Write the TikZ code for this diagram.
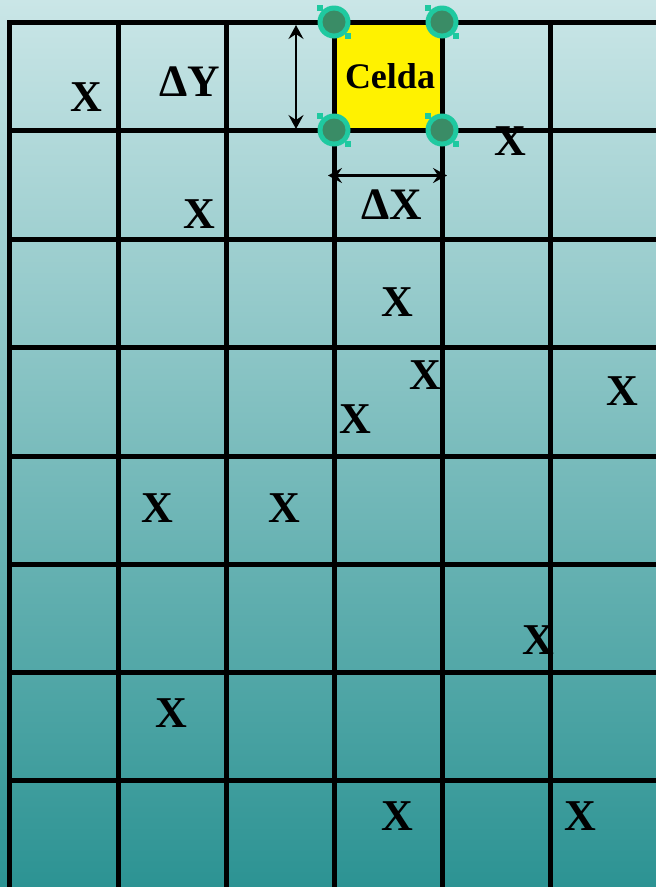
\documentclass[tikz,border=0pt]{standalone}
\usepackage{fontspec}
\setmainfont{Liberation Serif}
\usetikzlibrary{arrows.meta}
\definecolor{bgtop}{HTML}{CAE6E7}
\definecolor{bgbot}{HTML}{2C9393}
\definecolor{handle}{HTML}{1FC9A0}
\definecolor{knob}{HTML}{3A8C66}
\begin{document}
\begin{tikzpicture}[x=1pt,y=-1pt,
  gridline/.style={line width=5pt,black,line cap=rect},
  xmark/.style={font=\fontsize{44}{44}\selectfont\bfseries,inner sep=0pt,anchor=center},
  dimlabel/.style={font=\fontsize{45}{45}\selectfont\bfseries,inner sep=0pt,anchor=center},
  dimarrow/.style={line width=2.4pt,{Stealth[length=14pt,width=15pt,inset=5pt]}-{Stealth[length=14pt,width=15pt,inset=5pt]}},
  handlesq/.style={fill=handle},
]
\useasboundingbox (0,0) rectangle (656,887);
\shade[top color=bgtop,bottom color=bgbot] (0,0) rectangle (656,887);
% highlighted cell
\fill[yellow] (334,22) rectangle (442,130);
% grid
\foreach \x in {9,118,226,334,442,550}
  \draw[gridline] (\x,22) -- (\x,889);
\foreach \y in {22,130,239,347,456,564,672,780}
  \draw[gridline] (9,\y) -- (658,\y);
% corner handles
\foreach \cx/\cy in {334/22,442/22,334/130,442/130}{
  \fill[handlesq] (\cx-17,\cy-17) rectangle ++(6,6);
  \fill[handlesq] (\cx+11,\cy+11) rectangle ++(6,6);
  \fill[handle] (\cx,\cy) circle[radius=16.5pt];
  \fill[knob] (\cx,\cy) circle[radius=11.5pt];
}
\node[font=\fontsize{36}{36}\selectfont\bfseries,inner sep=0pt,anchor=base] (celda) at (390,88) {Celda};
% dimension arrows
\coordinate (dyt) at (296,25);
\coordinate (dyb) at (296,129);
\draw[dimarrow] (dyt) -- (dyb);
\coordinate (dxl) at (328,175.5);
\coordinate (dxr) at (447,175.5);
\draw[dimarrow] (dxl) -- (dxr);
\node[dimlabel] (dy) at (190,82) {ΔY};
\node[dimlabel] (dx) at (392,205) {ΔX};
% particles
\node[xmark] (p1) at (86.5,97) {X};
\node[xmark] (p2) at (199,214) {X};
\node[xmark] (p3) at (510,141) {X};
\node[xmark] (p4) at (397,302) {X};
\node[xmark] (p5) at (425,375) {X};
\node[xmark] (p6) at (622.5,391) {X};
\node[xmark] (p7) at (355,419.5) {X};
\node[xmark] (p8) at (157,508) {X};
\node[xmark] (p9) at (284,508) {X};
\node[xmark] (p10) at (538,640) {X};
\node[xmark] (p11) at (171,713) {X};
\node[xmark] (p12) at (397,816) {X};
\node[xmark] (p13) at (580.5,816) {X};
\end{tikzpicture}
\end{document}
